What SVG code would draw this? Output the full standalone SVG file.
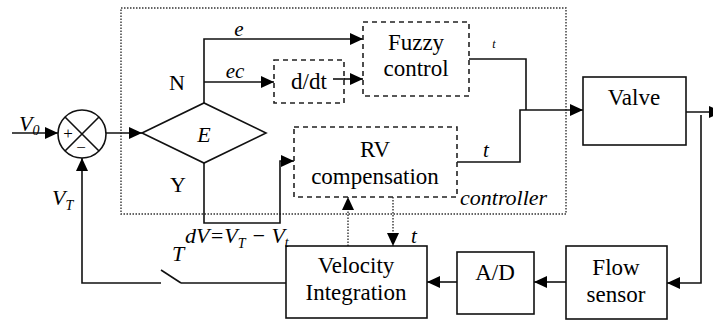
<svg xmlns="http://www.w3.org/2000/svg" width="713" height="322" viewBox="0 0 713 322" font-family="'Times New Roman', Times, 'Liberation Serif', 'DejaVu Serif', serif">
<defs>
<marker id="ah" markerUnits="userSpaceOnUse" markerWidth="14" markerHeight="12" refX="13" refY="6" orient="auto">
<path d="M0,0 L13,6 L0,12 Z" fill="#000"/>
</marker>
</defs>
<style>
.ln{fill:none;stroke:#111;stroke-width:1.6}
.dot{fill:none;stroke:#333;stroke-width:1.4;stroke-dasharray:1.5 1.5}
.box{fill:#fff;stroke:#111;stroke-width:1.6}
.dbox{fill:#fff;stroke:#222;stroke-width:1.6;stroke-dasharray:5 4}
.t{font-size:23px;text-anchor:middle;fill:#000}
.i{font-style:italic;fill:#000}
</style>
<rect id="controller" x="121" y="8" width="445" height="206" class="dot"/>
<g id="connectors">
<path class="ln" d="M12,133 H58" marker-end="url(#ah)"/>
<path class="ln" d="M106,133 H142" marker-end="url(#ah)"/>
<path class="ln" d="M204,103 V39 H363" marker-end="url(#ah)"/>
<path class="ln" d="M204,82 H274" marker-end="url(#ah)"/>
<path class="ln" d="M333,79 H363" marker-end="url(#ah)"/>
<path class="ln" d="M204,163 V223 H280 V161 H294" marker-end="url(#ah)"/>
<path class="ln" d="M469,59 H526 V110"/>
<path class="ln" d="M457,162 H520 V110 H583" marker-end="url(#ah)"/>
<path class="ln" d="M686,112 H722" marker-end="url(#ah)"/>
<path class="ln" d="M701,115 V283 H667" marker-end="url(#ah)"/>
<path class="ln" d="M566,282 H534" marker-end="url(#ah)"/>
<path class="ln" d="M457,282 H427" marker-end="url(#ah)"/>
<path class="dot" d="M348,246 V197" marker-end="url(#ah)"/>
<path class="dot" d="M393,197 V246" marker-end="url(#ah)"/>
<path class="ln" d="M286,283 H181"/>
<path class="ln" d="M181,283 L161,270"/>
<path class="ln" d="M161,283 H82 V158" marker-end="url(#ah)"/>
</g>
<g id="sum">
<circle cx="82" cy="134" r="24" class="box"/>
<path class="ln" d="M65,117 L99,151 M99,117 L65,151"/>
<text x="68" y="139" class="t" style="font-size:17px">+</text>
<text x="81" y="153" class="t" style="font-size:17px">−</text>
</g>
<g id="decision">
<path class="box" d="M142,133 L204,103 L266,133 L204,163 Z"/>
<text x="204" y="142" class="i" font-size="22" text-anchor="middle">E</text>
</g>
<g id="ddt">
<rect x="274" y="60" width="70" height="43" class="dbox"/>
<text x="309" y="89" class="t">d/dt</text>
<path class="ln" d="M333,79 H345"/>
</g>
<g id="fuzzy">
<rect x="363" y="22" width="106" height="74" class="dbox"/>
<text x="416" y="50" class="t">Fuzzy</text>
<text x="416" y="76" class="t">control</text>
</g>
<g id="rv">
<rect x="294" y="127" width="163" height="70" class="dbox"/>
<text x="375" y="157" class="t">RV</text>
<text x="375" y="184" class="t">compensation</text>
</g>
<g id="valve">
<rect x="583" y="77" width="103" height="68" class="box"/>
<text x="634" y="105" class="t">Valve</text>
</g>
<g id="flow">
<rect x="566" y="246" width="101" height="73" class="box"/>
<text x="616" y="275" class="t">Flow</text>
<text x="616" y="302" class="t">sensor</text>
</g>
<g id="ad">
<rect x="457" y="252" width="77" height="62" class="box"/>
<text x="495" y="280" class="t">A/D</text>
</g>
<g id="velocity">
<rect x="286" y="246" width="141" height="72" class="box"/>
<text x="356" y="273" class="t">Velocity</text>
<text x="356" y="300" class="t">Integration</text>
</g>
<g id="labels">
<text x="19" y="131" class="i" font-size="22">V<tspan font-size="14" dy="4">0</tspan></text>
<text x="52" y="205" class="i" font-size="22">V<tspan font-size="14" dy="5">T</tspan></text>
<text x="239" y="36" class="i" font-size="21" text-anchor="middle">e</text>
<text x="235" y="78" class="i" font-size="21" text-anchor="middle">ec</text>
<text x="177" y="90" class="t" font-size="22" style="font-size:22px">N</text>
<text x="178" y="192" class="t" style="font-size:22px">Y</text>
<text x="494" y="48" class="i" font-size="12" text-anchor="middle">t</text>
<text x="486" y="157" class="i" font-size="21" text-anchor="middle">t</text>
<text x="414" y="243" class="i" font-size="21" text-anchor="middle">t</text>
<text x="460" y="205" class="i" font-size="22">controller</text>
<text x="185" y="243" class="i" font-size="22">dV=V<tspan font-size="14" dy="5">T</tspan><tspan dy="-5"> − V</tspan><tspan font-size="14" dy="4">t</tspan></text>
<text x="172" y="261" class="i" font-size="22">T</text>
</g>
</svg>
